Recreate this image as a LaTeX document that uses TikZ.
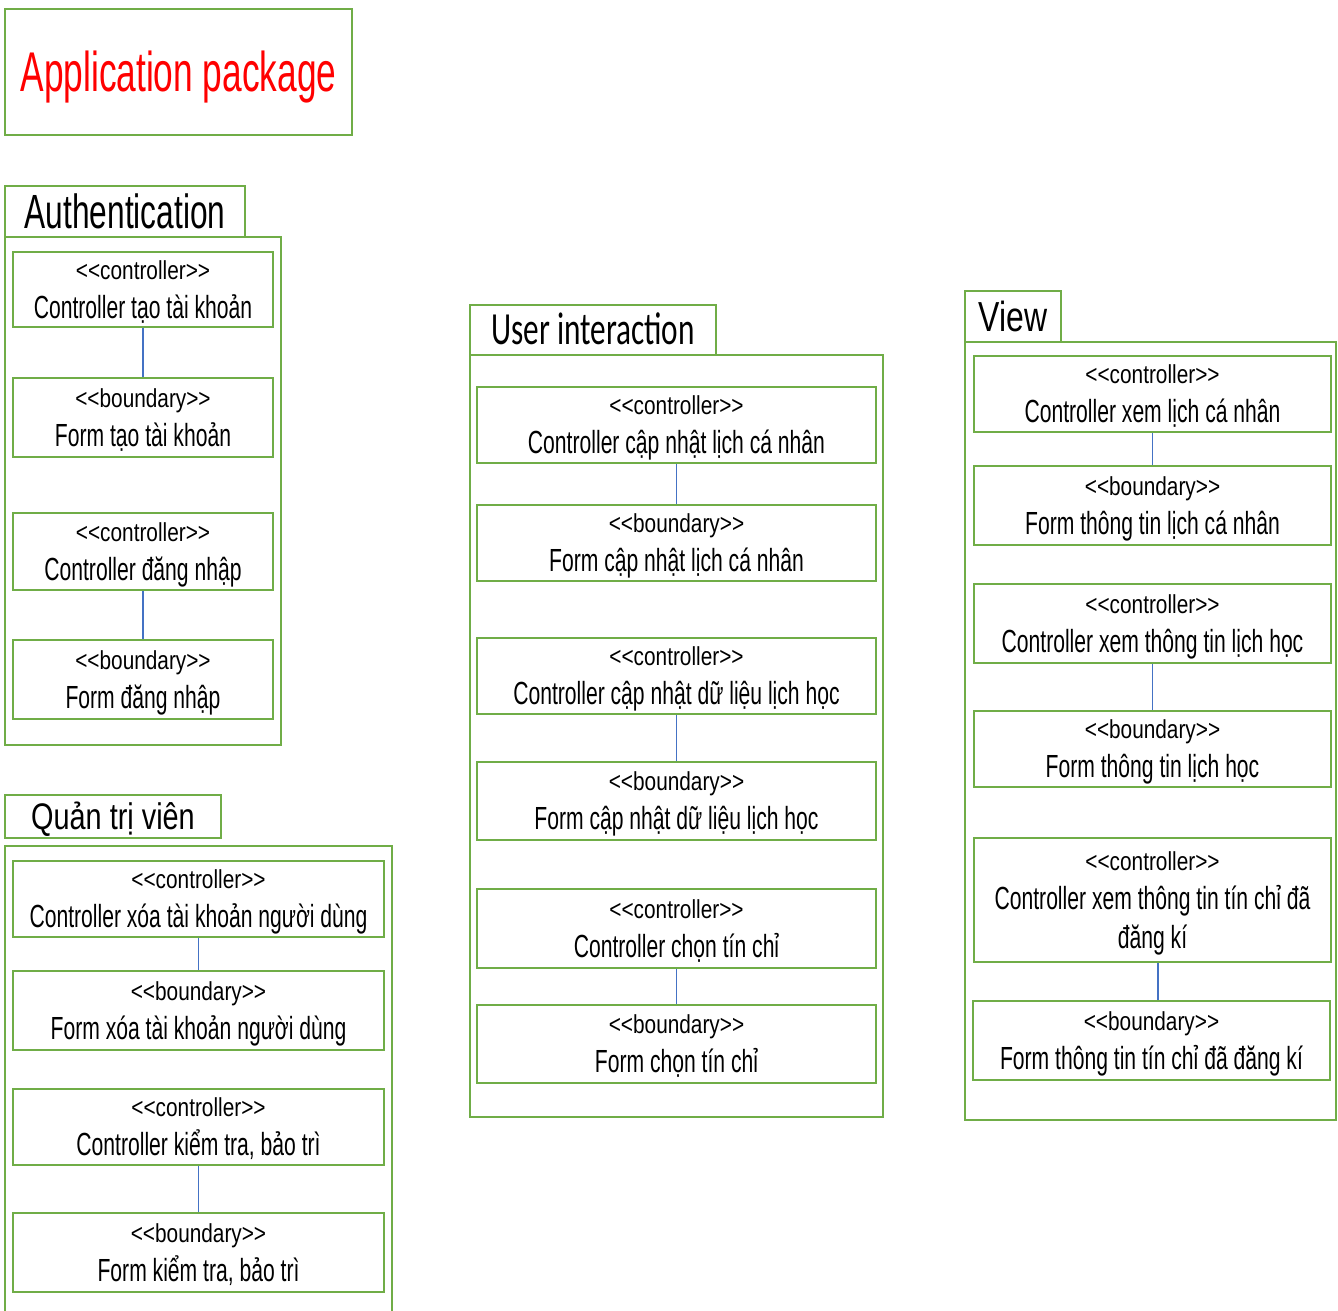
\documentclass[tikz,border=0pt]{standalone}
\usepackage{fontspec}
\setmainfont[FakeStretch=0.66]{Liberation Sans}
\newfontfamily\sterfamily[FakeStretch=0.8]{Liberation Sans}
\newfontfamily\appfamily[FakeStretch=0.63]{Liberation Sans}
\newfontfamily\authfamily[FakeStretch=0.66]{Liberation Sans}
\newfontfamily\viewfamily[FakeStretch=0.76]{Liberation Sans}
\newfontfamily\adminfamily[FakeStretch=0.78]{Liberation Sans}
\newfontfamily\userfamily[FakeStretch=0.68]{Carlito}
\newcommand\namefont{\fontsize{32}{39}\selectfont}
\newcommand\ster[1]{{\sterfamily\fontsize{26}{39}\selectfont <\kern0pt<#1>\kern0pt>}}
\definecolor{pkggreen}{RGB}{112,173,71}
\definecolor{linkblue}{RGB}{68,114,196}
\begin{document}
\begin{tikzpicture}[x=1pt,y=-1pt]
        \tikzset{class node/.style={rectangle,draw=pkggreen,line width=2.5pt,fill=none,inner sep=0pt,align=center,text depth=0pt,font=\namefont},
          tab node/.style={rectangle,draw=pkggreen,line width=2.5pt,inner sep=0pt,text depth=0pt},
          frame/.style={draw=pkggreen,line width=2.5pt},
          link/.style={draw=linkblue,line width=1.4pt}}
        \useasboundingbox (0,0) rectangle (1338,1311);
        % title
        \node[tab node, minimum width=347pt, minimum height=126pt, text height=40pt, text=red, font=\appfamily\fontsize{56}{60}\selectfont] (app) at (178.5,72) {Application package};
        % Authentication
        \node[tab node, minimum width=240pt, minimum height=51pt, text height=34.4pt, font=\authfamily\fontsize{48}{50}\selectfont] (authtab) at (125,211.5) {Authentication};
        \draw[frame] (5,237) rectangle (281,745);
        \node[class node, minimum width=260pt, minimum height=75pt] (a1) at (143,289.5) {\ster{controller}\\ Controller tạo tài khoản};
        \node[class node, minimum width=260pt, minimum height=79pt] (a2) at (143,417.5) {\ster{boundary}\\ Form tạo tài khoản};
        \node[class node, minimum width=260pt, minimum height=77pt] (a3) at (143,551.5) {\ster{controller}\\ Controller đăng nhập};
        \node[class node, minimum width=260pt, minimum height=79pt] (a4) at (143,679.5) {\ster{boundary}\\ Form đăng nhập};
        \draw[link] (a1) -- (a2);
        \draw[link] (a3) -- (a4);
        % Quan tri vien
        \node[tab node, minimum width=216pt, minimum height=43pt, text height=26.5pt, font=\adminfamily\fontsize{37}{40}\selectfont] (admintab) at (113,816.5) {Quản trị viên};
        \draw[frame] (5,1311) -- (5,846) -- (392,846) -- (392,1311);
        \node[class node, minimum width=371pt, minimum height=76pt] (q1) at (198.5,899) {\ster{controller}\\ Controller xóa tài khoản người dùng};
        \node[class node, minimum width=371pt, minimum height=79pt] (q2) at (198.5,1010.5) {\ster{boundary}\\ Form xóa tài khoản người dùng};
        \node[class node, minimum width=371pt, minimum height=76pt] (q3) at (198.5,1127) {\ster{controller}\\ Controller kiểm tra, bảo trì};
        \node[class node, minimum width=371pt, minimum height=79pt] (q4) at (198.5,1252.5) {\ster{boundary}\\ Form kiểm tra, bảo trì};
        \draw[link] (q1) -- (q2);
        \draw[link] (q3) -- (q4);
        % User interaction
        \node[tab node, minimum width=246pt, minimum height=50pt, text height=29pt, font=\userfamily\fontsize{46}{48}\selectfont] (usertab) at (593,330) {User interaction};
        \draw[frame] (470,355) rectangle (883,1117);
        \node[class node, minimum width=399pt, minimum height=76pt] (u1) at (676.5,425) {\ster{controller}\\ Controller cập nhật lịch cá nhân};
        \node[class node, minimum width=399pt, minimum height=76pt] (u2) at (676.5,543) {\ster{boundary}\\ Form cập nhật lịch cá nhân};
        \node[class node, minimum width=399pt, minimum height=76pt] (u3) at (676.5,676) {\ster{controller}\\ Controller cập nhật dữ liệu lịch học};
        \node[class node, minimum width=399pt, minimum height=78pt] (u4) at (676.5,801) {\ster{boundary}\\ Form cập nhật dữ liệu lịch học};
        \node[class node, minimum width=399pt, minimum height=79pt] (u5) at (676.5,928.5) {\ster{controller}\\ Controller chọn tín chỉ};
        \node[class node, minimum width=399pt, minimum height=78pt] (u6) at (676.5,1044) {\ster{boundary}\\ Form chọn tín chỉ};
        \draw[link] (u1) -- (u2);
        \draw[link] (u3) -- (u4);
        \draw[link] (u5) -- (u6);
        % View
        \node[tab node, minimum width=96pt, minimum height=51pt, text height=30pt, font=\viewfamily\fontsize{42}{44}\selectfont] (viewtab) at (1013,316.5) {View};
        \draw[frame] (965,342) rectangle (1336,1120);
        \node[class node, minimum width=357pt, minimum height=76pt] (v1) at (1152.5,394) {\ster{controller}\\ Controller xem lịch cá nhân};
        \node[class node, minimum width=357pt, minimum height=79pt] (v2) at (1152.5,505.5) {\ster{boundary}\\ Form thông tin lịch cá nhân};
        \node[class node, minimum width=357pt, minimum height=79pt] (v3) at (1152.5,623.5) {\ster{controller}\\ Controller xem thông tin lịch học};
        \node[class node, minimum width=357pt, minimum height=76pt] (v4) at (1152.5,749) {\ster{boundary}\\ Form thông tin lịch học};
        \node[class node, minimum width=357pt, minimum height=124pt] (v5) at (1152.5,900) {\ster{controller}\\ Controller xem thông tin tín chỉ đã\\ đăng kí};
        \node[class node, minimum width=357pt, minimum height=79pt] (v6) at (1151.5,1040.5) {\ster{boundary}\\ Form thông tin tín chỉ đã đăng kí};
        \draw[link] (v1) -- (v2);
        \draw[link] (v3) -- (v4);
        \draw[link] ([xshift=5.5pt]v5.south) -- ([xshift=5.5pt]v5.south |- v6.north);
      \end{tikzpicture}
\end{document}
